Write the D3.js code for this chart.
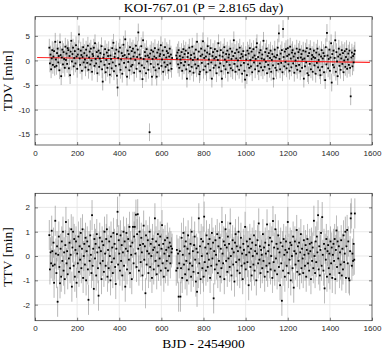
<!DOCTYPE html>
<html>
<head>
<meta charset="utf-8">
<script src="https://cdn.jsdelivr.net/npm/d3@7"></script>
<style>
  body { margin: 0; background: #fff; }
  .tick text { font-family: "Liberation Sans", Arial, sans-serif; font-size: 8px; fill: #262626; }
  .lbl { font-family: "Liberation Serif", "Times New Roman", serif; fill: #000; }
</style>
</head>
<body>
<div id="chart"></div>
<script>
// ephemeris: transit n happens at t0 + n * period (null = no transit observed)
const t0 = 68.0;
const period = 2.8165;

// TDV [min] per epoch
const tdv = [
  2.6, -0.6, 1.2, -1.8, 0.4, 2.1, -0.9, 0.8, 1.9, -1.3,
  3.8, 0.2, -1.1, 1.5, 2.4, -0.4, 0.9, -2.0, 3.7, 1.1,
  -3.2, 0.6, 2.2, -0.8, 1.7, 0.3, -1.5, 2.8, 0.1, 1.4,
  -0.7, 2.5, 2.1, -1.6, 0.9, -3.0, 1.8, 4.0, -0.2, 1.3,
  2.6, -1.2, 0.5, 1.9, -0.6, 3.1, 0.8, -1.7, 1.2, 2.3,
  5.3, 0.4, -0.9, 2.0, 1.1, -2.1, 0.7, 2.7, -0.4, 1.5,
  0.2, -1.4, 2.2, 1.0, -0.5, 3.0, -1.9, 0.6, 1.8, -0.8,
  2.4, 0.0, -2.3, 1.3, 0.9, 2.6, -1.1, 3.5, 0.3, -0.6,
  1.7, -2.6, 0.8, 2.0, -1.3, 0.4, 1.5, -0.2, 2.9, -1.8,
  -4.3, 0.6, 1.2, -0.9, 2.3, -2.4, 0.1, 1.6, -1.5, 0.9,
  2.1, -0.7, -2.9, 1.0, 0.3, -1.6, 2.5, -0.4, 3.6, -2.2,
  0.7, 1.4, -1.1, 2.2, -3.1, -5.5, 0.5, 1.8, -0.8, 2.6,
  -1.9, 0.2, 1.5, -2.7, 0.9, 3.2, -0.5, 1.1, 4.3, -1.4,
  0.6, -3.3, 2.0, -0.3, 1.3, -2.0, 2.7, 0.4, -1.2, 1.9,
  -0.9, 2.4, 0.8, -2.5, 1.6, 0.1, 3.0, -1.7, 0.7, 2.2,
  5.7, -0.6, 1.2, -2.2, 0.5, 2.9, -1.0, -3.8, 4.1, 0.3,
  -1.5, 1.7, 0.9, -2.6, 2.3, -0.2, 1.0, -1.9, 0.6, -14.6,
  1.4, -0.7, 2.1, -3.3, 0.3, 1.8, -1.4, 0.8, 2.5, -2.0,
  0.5, -3.3, 1.6, -0.8, 2.2, -1.6, 0.9, 1.3, 3.1, -1.1,
  0.2, 2.0, -2.3, 1.1, -0.4, 2.7, -1.3, 0.6, 1.9, -0.9,
  1.5, -2.0, 0.8, 2.4, -0.6, 1.2, -1.7, 0.5, null, null,
  null, null, null, null, 1.0, 0.4, 1.6, -0.8, 2.1, -1.5,
  0.9, 0.2, -0.5, 1.7, -2.1, 0.6, 2.3, -1.0, 1.3, -0.3,
  2.0, -1.8, -3.7, 0.7, 1.5, -0.9, 2.6, -2.2, 0.4, 1.1,
  -1.3, 2.8, 0.1, -2.5, 1.4, 0.6, -0.8, 2.2, -1.6, 3.8,
  0.3, -1.1, 1.8, -2.8, -2.3, 0.9, 2.4, -0.5, 1.2, 3.9,
  -1.9, 0.5, 2.0, -1.2, 0.8, -2.4, 1.6, 2.9, -0.7, 0.2,
  1.3, -2.0, 2.5, -0.4, -3.7, 0.9, 1.7, -1.5, 0.4, 2.3,
  -1.0, 0.7, -2.6, 1.9, 0.1, 3.5, -1.4, 1.0, -0.6, 2.1,
  -2.2, -3.7, 0.8, 1.6, -1.1, 2.7, 0.2, -1.8, 1.3, -0.3,
  2.0, -2.5, 0.6, 1.2, -0.9, 2.4, -1.6, 0.3, 1.8, -2.0,
  0.9, 4.1, -0.7, 1.5, -2.3, 0.4, 2.2, -1.2, 0.0, 1.7,
  -1.9, 2.6, 0.5, -1.0, 1.3, -2.7, 0.8, 1.9, -0.5, -2.1,
  -3.9, 1.1, 0.2, -3.0, 2.0, -0.8, 1.4, -1.5, 2.5, 0.1,
  -1.2, 1.8, -2.4, 0.6, 2.3, -0.4, 1.0, -1.8, 0.3, 2.7,
  3.5, -1.1, 0.7, -2.2, 1.6, -0.6, 2.1, -1.4, 0.4, 1.2,
  -2.0, 4.0, 0.2, -1.3, 1.7, -0.3, 2.4, -2.6, 0.9, -0.9,
  1.5, -1.7, 0.5, 2.0, -2.3, 0.1, 1.3, -1.0, -3.7, 0.8,
  2.2, -1.5, 0.6, -2.0, 1.1, 2.6, -0.7, 5.5, 0.3, -1.8,
  1.4, -0.5, 2.1, -2.4, 6.4, 0.7, -1.2, 1.8, -0.3, 2.3,
  -1.6, 0.9, 2.5, -0.8, 1.2, -2.1, 2.8, 0.4, -1.4, 1.6,
  2.1, -0.6, 0.8, -2.5, 1.4, 0.0, -1.1, 2.4, -1.9, 0.5,
  1.7, -0.9, 2.2, -2.2, 0.6, 1.3, -1.5, 0.2, 2.0, -3.7,
  0.4, -1.2, 1.8, -0.4, 2.5, -2.6, 0.9, -3.0, 1.5, -0.7,
  2.3, -1.8, 0.3, 1.1, -2.3, 0.7, 2.0, -1.0, 0.5, -2.7,
  1.6, -0.5, 2.4, -1.4, 0.1, 1.2, -2.0, -3.0, 0.8, 2.1,
  -1.3, 0.4, 1.5, -2.4, 0.9, -4.0, 2.7, -0.8, 5.6, 1.0,
  -1.6, 0.3, 2.2, -2.1, 0.6, 3.5, -4.5, 1.3, -0.9, 2.0,
  -1.4, 0.5, 4.1, -2.3, 1.7, -0.2, -3.2, 0.8, 2.4, -1.1,
  1.2, -1.9, 0.4, 2.1, -0.7, 1.5, -2.4, 0.0, 1.9, -1.3,
  0.7, 2.3, -1.7, 0.2, 1.4, -0.9, 2.0, -1.5, -7.3, 0.6,
  1.6, -1.2, 0.9, -0.4, 1.3, 2.0
];

// TTV [min] per epoch
const ttv = [
  0.86, -0.55, 0.15, -0.3, 1.04, 0.2, -0.4, 0.55, -1.1, -0.35,
  1.45, 0.1, -0.7, 0.4, -1.88, 0.05, 0.8, -0.45, -1.12, 0.3,
  -0.85, 0.6, -0.2, 1.0, -0.6, 0.15, -0.95, 0.45, 1.4, -0.3,
  0.2, -0.75, 0.9, -0.1, 0.55, -0.5, 0.05, 1.1, -1.26, 0.35,
  1.0, -0.4, 0.7, -0.85, 0.25, 0.6, -1.1, 0.1, -0.3, 0.8,
  -0.65, 0.4, -0.15, 0.95, -0.5, 0.3, 1.1, -0.9, 0.0, 0.5,
  -0.35, 0.75, -1.0, 0.2, 0.6, -0.55, -1.8, 0.4, -0.2, 0.85,
  0.05, -0.7, 1.68, -0.4, 0.3, -1.35, 0.7, -0.1, 0.5, -0.8,
  0.9, 0.15, -0.5, -1.63, 0.35, 0.75, -0.3, 0.2, -0.95, 0.6,
  -0.2, 0.45, -0.65, 1.0, 0.1, -0.4, 0.7, 1.1, -0.85, 0.25,
  -0.5, 0.6, 0.0, -1.0, 0.8, -0.25, 0.35, -0.7, 0.95, -0.1,
  0.5, -0.45, -1.15, 0.3, 0.9, 1.82, -0.35, 0.65, 0.1, -0.6,
  0.85, -0.2, 0.45, -0.8, 0.15, 1.0, -0.4, 0.6, -1.26, 0.3,
  0.95, -0.55, 0.2, 0.7, -0.15, 1.2, -0.7, 0.4, 0.05, -0.95,
  0.55, 1.2, -0.3, 0.8, 1.2, 0.1, 1.7, -0.45, 0.9, 1.72,
  0.3, -0.6, 1.0, 0.45, -0.25, 0.75, 0.15, -0.8, 0.5, 1.25,
  -0.15, 0.4, -1.53, 0.85, -0.35, 0.2, 0.65, -0.7, 0.1, 1.0,
  -0.45, 0.5, 0.0, -0.9, 0.7, 0.25, -0.55, 0.35, 1.55, -0.2,
  0.6, -0.75, 0.15, 0.9, -0.4, 0.45, -0.1, 0.8, -0.6, 0.3,
  1.27, -0.3, 0.5, -0.85, 0.1, 0.65, -0.5, 0.25, -0.2, 0.75,
  -0.6, 0.35, 0.0, 0.55, -0.3, 0.4, 0.15, 0.3, null, null,
  null, null, null, null, -0.6, 0.25, -0.5, 0.1, -1.67, -0.3,
  0.2, -1.67, -0.5, 0.75, -0.9, 0.05, 0.95, -0.35, 0.4, -0.75,
  0.6, -0.2, -1.0, 0.3, 0.85, -0.55, 0.1, -0.3, 0.5, -0.85,
  1.0, -0.4, 0.2, -0.65, 0.45, 0.8, -0.15, -1.05, 0.3, -1.47,
  0.15, -0.7, 1.55, -0.3, 0.4, -0.95, 0.7, 0.0, -0.5, 0.6,
  -0.85, 1.62, -0.25, 0.35, -0.6, 0.85, 0.1, -0.45, 0.5, -0.15,
  0.7, -0.9, 0.3, -0.4, 0.95, -0.1, 0.55, -1.74, 0.2, -0.55,
  0.65, 0.05, -0.35, 0.9, -0.7, 0.4, -0.2, 0.75, -0.85, 0.3,
  -0.5, 1.4, 0.1, -0.3, 0.6, -0.95, 0.45, 1.1, -0.2, 0.35,
  -0.65, 0.8, -0.1, 0.5, -0.45, 1.34, 0.0, -0.8, 0.3, 0.65,
  -0.35, 0.15, -1.05, 0.55, 0.9, -0.25, 0.4, -0.6, 0.2, 1.0,
  -0.15, -0.7, 0.35, 0.75, -0.4, 0.1, -0.95, 0.5, 0.25, -0.3,
  1.2, -0.55, 0.05, 0.6, -0.25, 0.4, -1.2, 0.15, 0.7, -0.45,
  0.3, -0.8, 0.55, 0.0, -0.35, 0.85, -0.6, 0.2, 0.45, -1.0,
  0.1, 0.65, -0.3, 1.34, -0.15, 0.4, -0.7, 0.25, 0.05, -0.5,
  0.9, -0.2, 0.35, -0.85, 0.55, 0.1, -0.4, 1.3, -0.65, 0.2,
  0.45, -0.3, 0.75, -0.55, 0.0, 0.6, -0.9, 1.44, -0.25, 0.35,
  -0.6, 1.1, -0.1, 0.5, -0.75, 0.3, 0.85, -0.45, 0.15, -1.2,
  0.55, -0.3, -1.84, 0.4, -0.6, 0.7, 0.05, -0.85, 0.25, 0.6,
  -0.4, 0.15, 1.4, -0.7, 0.3, -0.15, 0.55, -1.0, 0.45, 0.0,
  -0.5, 0.8, -1.3, 0.2, 0.6, -0.35, 0.1, 1.07, -0.65, 0.4,
  -0.2, 0.55, -0.75, 0.15, 0.9, -0.5, 0.3, -0.1, -0.7, 0.65,
  0.05, -0.4, 0.45, -0.85, 0.25, 0.7, -0.3, 0.1, -0.6, 0.5,
  0.2, -0.95, 0.55, -0.2, 0.35, -0.5, 1.45, 0.0, -0.7, 0.6,
  -0.25, 0.8, 0.15, 1.68, -0.55, 0.4, -0.8, 0.25, 0.95, -0.4,
  1.6, 0.05, -0.6, 0.5, -1.33, 0.3, -0.15, 0.7, -0.85, 0.2,
  0.45, -0.5, 0.1, -0.75, 0.6, -0.3, 0.35, -0.9, 0.05, 0.5,
  -0.2, 0.7, -0.95, 0.25, 1.05, -0.45, 0.6, -0.1, 0.4, -0.7,
  0.15, -0.35, 0.65, -0.8, 0.3, -0.55, 0.85, -0.25, 0.1, 1.0,
  -0.9, 0.4, 1.07, -0.3, 0.6, -0.92, -1.0, 0.2, 1.55, 1.75,
  -0.4, 0.1, -0.2, 0.5, -0.15, 1.75
];

// typical 1-sigma error bars [min]
const tdvErr = 1.8;
const ttvErr = 0.62;

// linear fit to TDV: [day, min] end points
const tdvTrend = [[10, 0.6], [1590, -0.4]];

const xTicks = [0, 200, 400, 600, 800, 1000, 1200, 1400, 1600];
const tdvTicks = [-15, -10, -5, 0, 5];
const ttvTicks = [-2, -1, 0, 1, 2];

const W = 382, H = 350;
const svg = d3.select('#chart').append('svg')
    .attr('width', W)
    .attr('height', H);

const x = d3.scaleLinear().domain([0, 1600]).range([35, 372]);
const fmt = d => String(d);

function panel(vals, err, yDomain, yTicks, top, bottom, ylabel, trend) {
    const y = d3.scaleLinear().domain(yDomain).range([bottom, top]);
    const pts = vals.map((v, i) => ({t: t0 + i * period, v: v})).filter(d => d.v !== null);
    const g = svg.append('g');

    // grid
    g.append('g').selectAll('line').data(xTicks.slice(1, -1)).enter().append('line')
        .attr('x1', d => x(d)).attr('x2', d => x(d))
        .attr('y1', top).attr('y2', bottom)
        .attr('stroke', '#e3e3e3').attr('stroke-width', 0.8);
    g.append('g').selectAll('line').data(yTicks).enter().append('line')
        .attr('x1', 35).attr('x2', 372)
        .attr('y1', d => y(d)).attr('y2', d => y(d))
        .attr('stroke', '#e3e3e3').attr('stroke-width', 0.8);

    // error bars
    g.append('g').selectAll('line').data(pts).enter().append('line')
        .attr('x1', d => x(d.t)).attr('x2', d => x(d.t))
        .attr('y1', d => y(d.v - err)).attr('y2', d => y(d.v + err))
        .attr('stroke', '#8a8a8a').attr('stroke-width', 0.75).attr('opacity', 0.8);

    if (trend) {
        g.append('path')
            .datum(trend)
            .attr('d', d3.line().x(d => x(d[0])).y(d => y(d[1])))
            .attr('stroke', '#ff0000').attr('stroke-width', 1.1)
            .attr('fill', 'none').attr('opacity', 0.85);
    }

    // points
    g.append('g').selectAll('rect').data(pts).enter().append('rect')
        .attr('x', d => x(d.t) - 0.9).attr('y', d => y(d.v) - 0.9)
        .attr('width', 1.8).attr('height', 1.8)
        .attr('fill', '#000');

    // axes, ticks pointing inward as in MATLAB
    g.append('g')
        .attr('transform', `translate(0,${bottom})`)
        .call(d3.axisBottom(x).tickValues(xTicks).tickSize(-3).tickPadding(5).tickFormat(fmt))
        .call(a => a.select('.domain').remove());
    g.append('g')
        .attr('transform', `translate(0,${top})`)
        .call(d3.axisTop(x).tickValues(xTicks).tickSize(-3).tickFormat(''))
        .call(a => a.select('.domain').remove());
    g.append('g')
        .attr('transform', 'translate(35,0)')
        .call(d3.axisLeft(y).tickValues(yTicks).tickSize(-3).tickPadding(5).tickFormat(fmt))
        .call(a => a.select('.domain').remove());
    g.append('g')
        .attr('transform', 'translate(372,0)')
        .call(d3.axisRight(y).tickValues(yTicks).tickSize(-3).tickFormat(''))
        .call(a => a.select('.domain').remove());
    g.selectAll('.tick line').attr('stroke', '#262626').attr('stroke-width', 0.6);

    g.append('rect')
        .attr('x', 35).attr('y', top)
        .attr('width', 337).attr('height', bottom - top)
        .attr('fill', 'none').attr('stroke', '#262626').attr('stroke-width', 0.7);

    g.append('text')
        .attr('class', 'lbl')
        .attr('transform', `translate(12,${(top + bottom) / 2}) rotate(-90)`)
        .attr('text-anchor', 'middle')
        .style('font-size', '13.5px')
        .text(ylabel);
}

panel(tdv, tdvErr, [-17.2, 8.9], tdvTicks, 16.7, 145, 'TDV [min]', tdvTrend);
panel(ttv, ttvErr, [-2.66, 2.58], ttvTicks, 193.3, 320.7, 'TTV [min]', null);

svg.append('text')
    .attr('class', 'lbl')
    .attr('x', 203.5).attr('y', 11.5)
    .attr('text-anchor', 'middle')
    .style('font-size', '13.5px')
    .text('KOI-767.01 (P = 2.8165 day)');

svg.append('text')
    .attr('class', 'lbl')
    .attr('x', 203.5).attr('y', 348)
    .attr('text-anchor', 'middle')
    .style('font-size', '13.5px')
    .text('BJD - 2454900');
</script>
</body>
</html>
